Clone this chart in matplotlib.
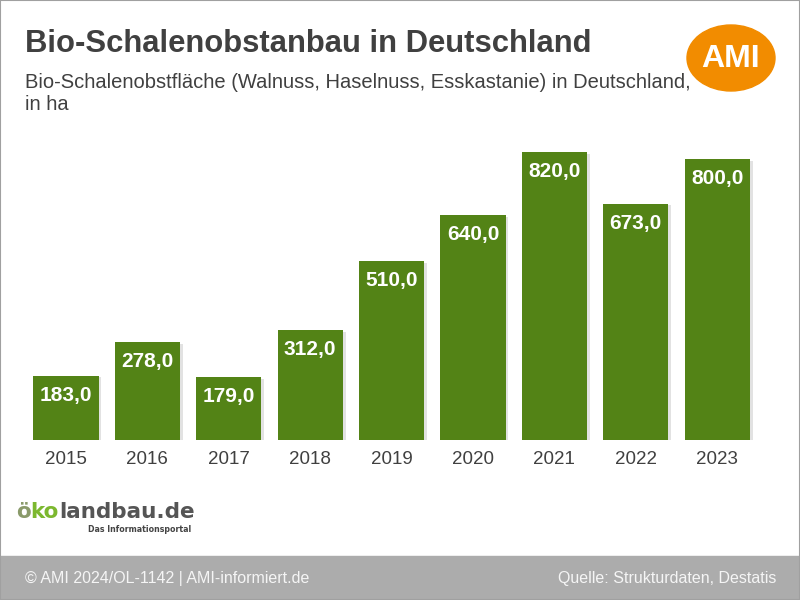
import matplotlib.pyplot as plt
from matplotlib.patches import Ellipse, Rectangle

years = ['2015', '2016', '2017', '2018', '2019', '2020', '2021', '2022', '2023']
area_ha = [183.0, 278.0, 179.0, 312.0, 510.0, 640.0, 820.0, 673.0, 800.0]

title = 'Bio-Schalenobstanbau in Deutschland'
subtitle = 'Bio-Schalenobstfläche (Walnuss, Haselnuss, Esskastanie) in Deutschland,\nin ha'
footer_left = '© AMI 2024/OL-1142 | AMI-informiert.de'
footer_right = 'Quelle: Strukturdaten, Destatis'

plt.rcParams['font.family'] = ['Liberation Sans', 'DejaVu Sans']
text_col = '#404040'
bar_col = '#538316'

fig = plt.figure(figsize=(8, 6), dpi=100)
W, H = 800, 600


def px(xp, yp):
    # pixel coords from top-left -> figure fraction
    return xp / W, 1 - yp / H


# axes placed in pixel terms
left, right = 25.3, 25.3 + 9 * 81.4
top, bottom = 152, 440
ax = fig.add_axes([left / W, 1 - bottom / H, (right - left) / W, (bottom - top) / H])

x = list(range(len(years)))
# soft shadow behind bars
ax.bar([i + 0.035 for i in x], area_ha, width=0.8, bottom=-5, color='#cfcfcf',
       alpha=0.6, zorder=1)
bars = ax.bar(x, area_ha, width=0.8, color=bar_col, zorder=2)
for rect, v in zip(bars, area_ha):
    ax.annotate(f'{v:.1f}'.replace('.', ','), (rect.get_x() + rect.get_width() / 2, v),
                xytext=(0, -14), textcoords='offset points', ha='center', va='center',
                color='white', fontsize=15, fontweight='bold', zorder=3)

ax.set_xlim(-0.5, len(years) - 0.5)
ax.set_ylim(0, 820)
ax.set_xticks(x)
ax.set_xticklabels(years, fontsize=13.5, color=text_col)
ax.tick_params(axis='x', length=0, pad=8)
ax.set_yticks([])
for s in ax.spines.values():
    s.set_visible(False)
ax.patch.set_alpha(0)

# titles
fig.text(*px(25, 44), title, fontsize=22.3, fontweight='bold', color=text_col,
         ha='left', va='center')
fig.text(*px(25, 73), subtitle, fontsize=14.5, color=text_col, ha='left',
         va='top', linespacing=1.2)

# AMI logo
fig.patches.append(Ellipse(px(731, 58), 88 / W, 66 / H, color='#f28c00',
                           transform=fig.transFigure, zorder=1))
fig.text(*px(731, 59), 'AMI', fontsize=23, fontweight='bold', color='white',
         ha='center', va='center', zorder=2)

# oekolandbau logo, pieces placed one after the other
renderer = fig.canvas.get_renderer()
xpos = 16
for part, col in [('ö', '#8a9a6a'), ('ko', '#7cb82f'), ('landbau.de', '#555555')]:
    t = fig.text(*px(xpos, 518), part, fontsize=15.5, color=col, ha='left',
                 va='baseline', family='DejaVu Sans', fontweight='bold')
    xpos += t.get_window_extent(renderer).width
fig.text(*px(88, 529), 'Das Informationsportal', fontsize=5.7, color='#444444',
         ha='left', va='center', fontweight='bold', family='DejaVu Sans')

# footer band
fig.patches.append(Rectangle((0, 0), 1, 44 / H, color='#acacac',
                             transform=fig.transFigure, zorder=0))
fig.text(*px(25, 579), footer_left, fontsize=11.5, color='#f5f5f5', ha='left',
         va='center')
fig.text(*px(776, 579), footer_right, fontsize=11.5, color='#f5f5f5', ha='right',
         va='center')

# thin frame
fig.patches.append(Rectangle((0, 0), 1, 1, fill=False, edgecolor='#a0a0a0',
                             linewidth=1.5, transform=fig.transFigure, zorder=5))

fig.savefig('out.png', dpi=100)
